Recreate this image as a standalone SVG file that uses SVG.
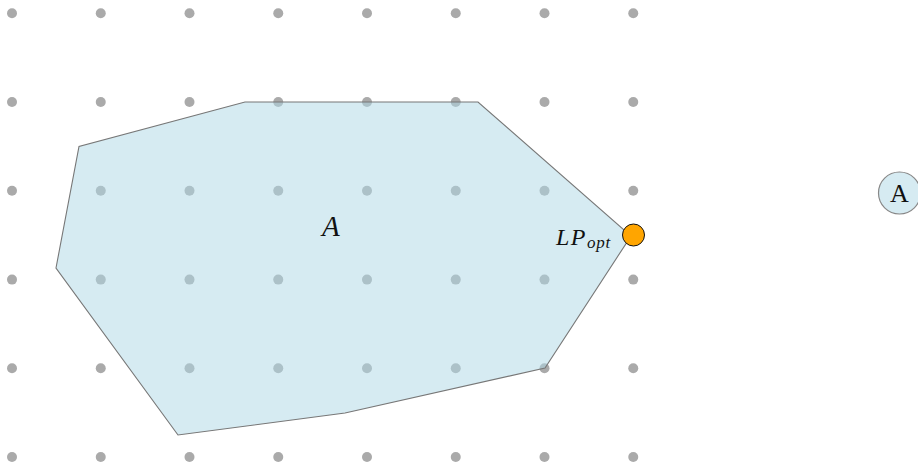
<svg xmlns="http://www.w3.org/2000/svg" width="918" height="468" viewBox="0 0 918 468">
<defs>
<style>
.dot{fill:#aaaaaa}
.region{fill:#add8e6;fill-opacity:0.5;stroke:#777777;stroke-width:1.1}
.lbl{font-family:"Liberation Serif","DejaVu Serif",serif;font-style:italic;fill:#111}
</style>
<circle id="d" r="5" class="dot"/>
</defs>
<g id="grid">
<use href="#d" x="12" y="13.3"/><use href="#d" x="100.75" y="13.3"/><use href="#d" x="189.5" y="13.3"/><use href="#d" x="278.25" y="13.3"/><use href="#d" x="367" y="13.3"/><use href="#d" x="455.75" y="13.3"/><use href="#d" x="544.5" y="13.3"/><use href="#d" x="633.25" y="13.3"/>
<use href="#d" x="12" y="102"/><use href="#d" x="100.75" y="102"/><use href="#d" x="189.5" y="102"/><use href="#d" x="278.25" y="102"/><use href="#d" x="367" y="102"/><use href="#d" x="455.75" y="102"/><use href="#d" x="544.5" y="102"/><use href="#d" x="633.25" y="102"/>
<use href="#d" x="12" y="190.8"/><use href="#d" x="100.75" y="190.8"/><use href="#d" x="189.5" y="190.8"/><use href="#d" x="278.25" y="190.8"/><use href="#d" x="367" y="190.8"/><use href="#d" x="455.75" y="190.8"/><use href="#d" x="544.5" y="190.8"/><use href="#d" x="633.25" y="190.8"/>
<use href="#d" x="12" y="279.6"/><use href="#d" x="100.75" y="279.6"/><use href="#d" x="189.5" y="279.6"/><use href="#d" x="278.25" y="279.6"/><use href="#d" x="367" y="279.6"/><use href="#d" x="455.75" y="279.6"/><use href="#d" x="544.5" y="279.6"/><use href="#d" x="633.25" y="279.6"/>
<use href="#d" x="12" y="368.3"/><use href="#d" x="100.75" y="368.3"/><use href="#d" x="189.5" y="368.3"/><use href="#d" x="278.25" y="368.3"/><use href="#d" x="367" y="368.3"/><use href="#d" x="455.75" y="368.3"/><use href="#d" x="544.5" y="368.3"/><use href="#d" x="633.25" y="368.3"/>
<use href="#d" x="12" y="457"/><use href="#d" x="100.75" y="457"/><use href="#d" x="189.5" y="457"/><use href="#d" x="278.25" y="457"/><use href="#d" x="367" y="457"/><use href="#d" x="455.75" y="457"/><use href="#d" x="544.5" y="457"/><use href="#d" x="633.25" y="457"/>
</g>
<g id="regionA">
<polygon class="region" points="245,102 478,102 631,236 545,368 345,413 178,435 56,268 79,146.5"/>
<text class="lbl" x="322" y="236" font-size="29">A</text>
</g>
<g id="lpopt">
<circle cx="633.5" cy="235" r="11" fill="#ffa500" stroke="#111" stroke-width="1"/>
<text class="lbl" x="556" y="245" font-size="24" letter-spacing="1.5">LP<tspan font-size="17" dy="3" letter-spacing="0.8">opt</tspan></text>
</g>
<g id="nodeA">
<circle cx="899.5" cy="193" r="21" fill="#d6ebf2" stroke="#888" stroke-width="1.2"/>
<text x="899.5" y="202" font-size="26" text-anchor="middle" font-family="'Liberation Serif','DejaVu Serif',serif" fill="#111">A</text>
</g>
<g id="connectors"/>
</svg>
